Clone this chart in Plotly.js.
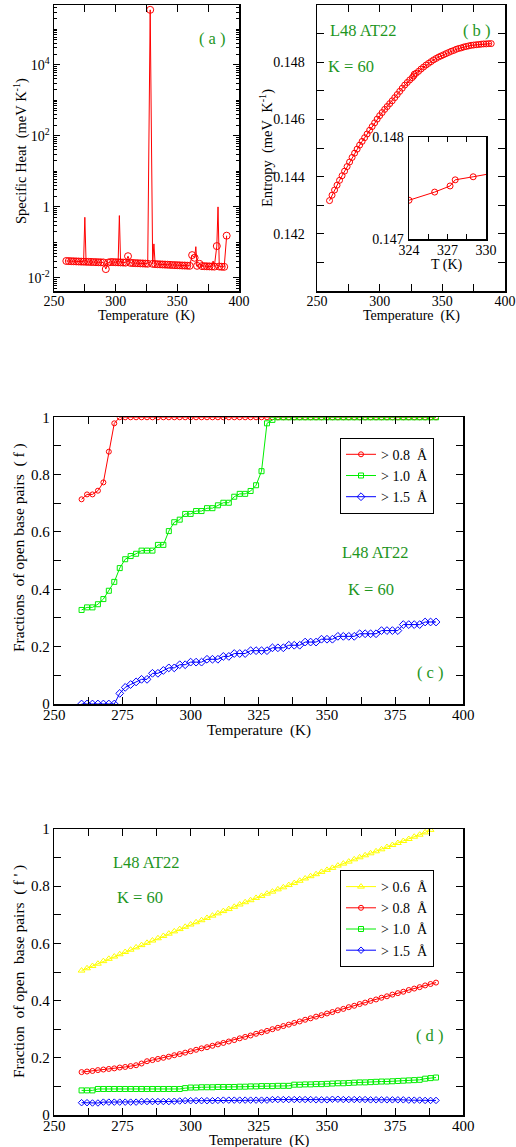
<!DOCTYPE html>
<html><head><meta charset="utf-8">
<script src="https://cdn.plot.ly/plotly-3.0.1.min.js"></script>
<style>html,body{margin:0;padding:0;background:#fff}#chart{width:516px;height:1147px}</style>
</head><body><div id="chart"></div>
<script>
// ---------- DATA ----------
// Panel (a): specific heat
const cvT = [260,262,264,266,268,270,272,274,276,278,280,282,284,286,288,290,292,294,296,298,300,302,304,306,308,310,312,314,316,318,320,322,324,326,328,330,332,334,336,338,340,342,344,346,348,350,352,354,356,358,360,362,364,366,368,370,372,374,376,378,380,382,384,386,388,390];
const cv = [0.0301,0.0299,0.0297,0.0295,0.0293,0.0291,0.0289,0.0288,0.0286,0.0284,
            0.0283,0.0281,0.0279,0.0278,0.0276,0.0274,0.0178,0.0272,0.0282,0.0280,
            0.0278,0.0276,0.0274,0.0272,0.0270,0.041,0.0266,0.0264,0.0262,0.0260,
            0.0258,0.0256,0.0254,0.0252,350000,0.0250,0.0246,0.0244,0.0242,0.0240,
            0.0238,0.0236,0.0234,0.0232,0.0230,0.0229,0.0227,0.0225,0.0224,0.0222,
            0.0220,0.044,0.037,0.0220,0.025,0.0216,0.0215,0.0213,0.0212,0.0210,
            0.0209,0.079,0.0210,0.0207,0.0206,0.155];
const cvSpikeT = [275,303,331,365,379,383];
const cvSpike = [0.51,0.57,0.091,0.076,0.030,1.0];

// Panel (b): entropy
const entT = [260,262,264,266,268,270,272,274,276,278,280,282,284,286,288,290,292,294,296,298,300,302,304,306,308,310,312,314,316,318,320,322,324,326,327.2,327.6,329,331,333,335,337,339,341,343,345,347,349,351,353,355,357,359,361,363,365,367,369,371,373,375,377,379,381,383,385,387,389];
const entS = [0.14316,0.14335,0.14353,0.14370,0.14387,0.14403,0.14419,0.14435,0.14451,0.14467,
              0.14482,0.14496,0.14510,0.14523,0.14536,0.14549,0.14562,0.14575,0.14588,0.14601,
              0.14613,0.14624,0.14635,0.14645,0.14655,0.14665,0.14676,0.14687,0.14698,0.14709,
              0.14720,0.14729,0.14738,0.14746,0.14752,0.14758,0.14761,0.14768,0.14776,0.14783,
              0.14790,0.14796,0.14802,0.14808,0.14813,0.14818,0.14822,0.14826,0.14830,0.14834,
              0.14838,0.14841,0.14845,0.14848,0.14850,0.14853,0.14855,0.14857,0.14859,0.14860,
              0.14861,0.14862,0.14863,0.14864,0.14864,0.14865,0.14865];

// Panel (c): fractions of open base pairs (f)
const fracT = [260,262,264,266,268,270,272,274,276,278,280,282,284,286,288,290,292,294,296,298,300,302,304,306,308,310,312,314,316,318,320,322,324,326,328,330,332,334,336,338,340,342,344,346,348,350,352,354,356,358,360,362,364,366,368,370,372,374,376,378,380,382,384,386,388,390];
const fC08 = [0.714,0.731,0.731,0.744,0.773,0.880,0.979,1,1,1,1,1,1,1,1,1,1,1,1,1,1,1,1,1,1,1,1,1,1,1,1,1,1,1,1,1,1,1,1,1,1,1,1,1,1,1,1,1,1,1,1,1,1,1,1,1,1,1,1,1,1,1,1,1,1,1];
const fC10 = [0.328,0.337,0.337,0.348,0.366,0.395,0.426,0.474,0.505,0.516,
              0.524,0.535,0.535,0.535,0.555,0.555,0.603,0.634,0.643,0.663,
              0.663,0.673,0.673,0.683,0.683,0.693,0.702,0.702,0.723,0.733,
              0.733,0.743,0.763,0.812,0.979,0.991,1,1,1,1,
              1,1,1,1,1,1,1,1,1,1,1,1,1,1,1,1,1,1,1,1,1,1,1,1,1,1];
const fC15 = [0,0,0,0,0,0,0,0.037,0.058,0.068,
              0.077,0.086,0.086,0.107,0.107,0.117,0.126,0.126,0.137,0.137,
              0.146,0.146,0.146,0.156,0.156,0.156,0.166,0.166,0.176,0.176,
              0.176,0.186,0.186,0.186,0.186,0.196,0.196,0.196,0.205,0.205,
              0.205,0.216,0.216,0.216,0.226,0.226,0.226,0.236,0.236,0.236,
              0.236,0.245,0.245,0.245,0.245,0.256,0.256,0.256,0.256,0.277,
              0.277,0.277,0.277,0.286,0.286,0.286];

// Panel (d): fraction of open base pairs (f')
const fracT06 = [260,262,264,266,268,270,272,274,276,278,280,282,284,286,288,290,292,294,296,298,300,302,304,306,308,310,312,314,316,318,320,322,324,326,328,330,332,334,336,338,340,342,344,346,348,350,352,354,356,358,360,362,364,366,368,370,372,374,376,378,380,382,384,386,388];
const fD06 = [0.505,0.513,0.521,0.529,0.538,0.546,0.554,0.562,0.570,0.578,
              0.586,0.594,0.602,0.610,0.618,0.626,0.634,0.642,0.650,0.658,
              0.666,0.674,0.681,0.689,0.697,0.705,0.713,0.720,0.728,0.736,
              0.744,0.751,0.759,0.766,0.774,0.781,0.789,0.796,0.804,0.811,
              0.819,0.827,0.835,0.842,0.850,0.857,0.864,0.872,0.879,0.886,
              0.894,0.901,0.908,0.915,0.922,0.929,0.937,0.944,0.951,0.958,
              0.965,0.973,0.980,0.988,0.997];
const fD08 = [0.150,0.152,0.154,0.157,0.159,0.161,0.163,0.166,0.168,0.171,
              0.174,0.180,0.188,0.192,0.196,0.200,0.204,0.209,0.213,0.218,
              0.223,0.228,0.233,0.237,0.242,0.247,0.252,0.257,0.262,0.268,
              0.273,0.278,0.284,0.289,0.294,0.300,0.305,0.311,0.316,0.322,
              0.327,0.333,0.338,0.344,0.349,0.355,0.360,0.366,0.371,0.377,
              0.382,0.388,0.393,0.399,0.404,0.410,0.415,0.421,0.426,0.431,
              0.437,0.442,0.447,0.453,0.458,0.463];
const fD10 = [0.086,0.086,0.086,0.091,0.091,0.091,0.091,0.091,0.091,0.091,
              0.091,0.091,0.091,0.091,0.091,0.091,0.091,0.091,0.091,0.094,
              0.096,0.096,0.097,0.097,0.097,0.098,0.098,0.098,0.098,0.099,
              0.099,0.100,0.100,0.101,0.101,0.101,0.102,0.102,0.102,0.106,
              0.106,0.107,0.107,0.108,0.108,0.109,0.110,0.111,0.111,0.112,
              0.113,0.114,0.114,0.115,0.116,0.117,0.117,0.118,0.119,0.120,
              0.121,0.122,0.123,0.127,0.129,0.131];
const fD15 = [0.043,0.043,0.042,0.042,0.045,0.045,0.045,0.045,0.045,0.045,
              0.045,0.047,0.047,0.047,0.047,0.047,0.047,0.048,0.049,0.050,
              0.050,0.050,0.050,0.050,0.050,0.051,0.052,0.052,0.052,0.052,
              0.052,0.052,0.052,0.052,0.052,0.054,0.054,0.054,0.054,0.054,
              0.054,0.054,0.054,0.053,0.053,0.053,0.055,0.055,0.054,0.054,
              0.054,0.054,0.054,0.053,0.053,0.053,0.053,0.053,0.053,0.053,
              0.052,0.052,0.052,0.051,0.051,0.051];

const tempTicks = [250,300,350,400];
const logTickVals = [0.01,1,100,10000];
const logTickText = ['10<sup>-2</sup>','1','10<sup>2</sup>','10<sup>4</sup>'];
const legendC = ['>\u00A00.8\u00A0\u00A0\u00C5','>\u00A01.0\u00A0\u00A0\u00C5','>\u00A01.5\u00A0\u00A0\u00C5'];
const legendD = ['>\u00A00.6\u00A0\u00A0\u00C5','>\u00A00.8\u00A0\u00A0\u00C5','>\u00A01.0\u00A0\u00A0\u00C5','>\u00A01.5\u00A0\u00A0\u00C5'];
const xTitle = 'Temperature\u00A0\u00A0(K)';
const yTitleA = 'Specific Heat\u00A0\u00A0(meV K<sup>-1</sup>)';
const yTitleB = 'Entropy\u00A0\u00A0(meV\u00A0\u00A0K<sup>-1</sup>)';
const yTitleC = 'Fractions\u00A0\u00A0of open base pairs\u00A0\u00A0( f )';
const yTitleD = "Fraction\u00A0\u00A0of open\u00A0\u00A0base pairs\u00A0\u00A0( f ' )";
const insetTitle = 'T (K)';

// ---------- STYLE ----------
const W = 516, H = 1147;
const FONT = "'Liberation Serif', 'Times New Roman', Times, serif";
const GREEN_TXT = '#1e961e';
const px = v => v / W;
const py = v => 1 - v / H;

// merge main + spike points for the line of panel (a)
const cvAll = cvT.map((t,i)=>[t,cv[i]]).concat(cvSpikeT.map((t,i)=>[t,cvSpike[i]])).sort((a,b)=>a[0]-b[0]);

function ax(extra){
  return Object.assign({
    showline:true, linecolor:'black', linewidth:1.5, mirror:'allticks',
    ticks:'inside', ticklen:7, tickwidth:1, tickcolor:'black',
    showgrid:false, zeroline:false, automargin:false,
    tickfont:{family:FONT, size:15, color:'black'}
  }, extra);
}
const minorT = (d) => ({dtick:d, ticks:'inside', ticklen:7, tickwidth:1, tickcolor:'black', showgrid:false});

// log minor ticks (every 1..9 x decade, except labelled decades)
const logMinor = [];
for (let e=-3; e<=6; e++) for (let m=1; m<=9; m++) {
  const v = m*Math.pow(10,e);
  if (!(m===1 && e%2===0)) logMinor.push(v);
}

const traces = [
  {x:cvAll.map(p=>p[0]), y:cvAll.map(p=>p[1]), xaxis:'x', yaxis:'y', mode:'lines',
   line:{color:'#ff0000', width:1}, showlegend:false, hoverinfo:'skip'},
  {x:cvT, y:cv, xaxis:'x', yaxis:'y', mode:'markers',
   marker:{symbol:'circle-open', size:7, color:'#ff0000', line:{width:1}}, showlegend:false},
  {x:entT, y:entS, xaxis:'x2', yaxis:'y2', mode:'lines+markers',
   line:{color:'#ff0000', width:1}, marker:{symbol:'circle-open', size:6, color:'#ff0000', line:{width:1}}, showlegend:false},
  {x:entT, y:entS, xaxis:'x5', yaxis:'y5', mode:'lines+markers',
   line:{color:'#ff0000', width:1}, marker:{symbol:'circle-open', size:6, color:'#ff0000', line:{width:1}}, showlegend:false},
  {x:fracT, y:fC08, xaxis:'x3', yaxis:'y3', mode:'lines+markers', name:legendC[0], legend:'legend',
   line:{color:'#ff0000', width:1}, marker:{symbol:'circle-open', size:5, color:'#ff0000', line:{width:1}}},
  {x:fracT, y:fC10, xaxis:'x3', yaxis:'y3', mode:'lines+markers', name:legendC[1], legend:'legend',
   line:{color:'#00ee00', width:1}, marker:{symbol:'square-open', size:5, color:'#00ee00', line:{width:1}}},
  {x:fracT, y:fC15, xaxis:'x3', yaxis:'y3', mode:'lines+markers', name:legendC[2], legend:'legend',
   line:{color:'#0000ff', width:1}, marker:{symbol:'diamond-open', size:6, color:'#0000ff', line:{width:1}}},
  {x:fracT06, y:fD06, xaxis:'x4', yaxis:'y4', mode:'lines+markers', name:legendD[0], legend:'legend2',
   line:{color:'#ffff00', width:1}, marker:{symbol:'triangle-up-open', size:6, color:'#ffff00', line:{width:1}}},
  {x:fracT, y:fD08, xaxis:'x4', yaxis:'y4', mode:'lines+markers', name:legendD[1], legend:'legend2',
   line:{color:'#ff0000', width:1}, marker:{symbol:'circle-open', size:5, color:'#ff0000', line:{width:1}}},
  {x:fracT, y:fD10, xaxis:'x4', yaxis:'y4', mode:'lines+markers', name:legendD[2], legend:'legend2',
   line:{color:'#00ee00', width:1}, marker:{symbol:'square-open', size:5, color:'#00ee00', line:{width:1}}},
  {x:fracT, y:fD15, xaxis:'x4', yaxis:'y4', mode:'lines+markers', name:legendD[3], legend:'legend2',
   line:{color:'#0000ff', width:1}, marker:{symbol:'diamond-open', size:5, color:'#0000ff', line:{width:1}}}
];

const ann = (text, x, y, size) => ({text:text, x:px(x), y:py(y), xref:'paper', yref:'paper',
  showarrow:false, xanchor:'center', yanchor:'middle', font:{family:FONT, size:size||16.5, color:GREEN_TXT}});
const tAnn = (text, x, y, size, angle) => ({text:text, x:px(x), y:py(y), xref:'paper', yref:'paper',
  showarrow:false, xanchor:'center', yanchor:'middle', textangle:angle||0, borderpad:0,
  font:{family:FONT, size:size, color:'black'}});

const layout = {
  width:W, height:H, margin:{l:0,r:0,t:0,b:0},
  paper_bgcolor:'white', plot_bgcolor:'white', showlegend:true,
  font:{family:FONT, color:'black'},
  // (a)
  xaxis: ax({domain:[px(54),px(239)], anchor:'y', range:[250,400], tickvals:tempTicks, minor:minorT(25),
    ticklabelstandoff:-3, tickfont:{family:FONT,size:14,color:'black'}}),
  yaxis: ax({domain:[py(291),py(5)], anchor:'x', type:'log', range:[-2.366,5.68],
    tickvals:logTickVals, ticktext:logTickText, ticklen:6,
    minor:{tickvals:logMinor, ticks:'inside', ticklen:3, tickwidth:1, tickcolor:'black'},
    tickfont:{family:FONT,size:14,color:'black'}}),
  // (b)
  xaxis2: ax({domain:[px(317),px(505)], anchor:'y2', range:[250,400], tickvals:tempTicks, minor:minorT(25),
    ticklabelstandoff:-3, tickfont:{family:FONT,size:14,color:'black'}}),
  yaxis2: ax({domain:[py(291),py(5)], anchor:'x2', range:[0.140,0.150],
    tickvals:[0.142,0.144,0.146,0.148], ticktext:['0.142','0.144','0.146','0.148'], minor:minorT(0.001),
    ticklabelstandoff:8, tickfont:{family:FONT,size:14,color:'black'}}),
  // inset of (b)
  xaxis5: ax({domain:[px(409),px(486)], anchor:'y5', range:[324,330], tickvals:[324,327,330], ticklen:5,
    minor:{tickvals:[325.5,328.5], ticks:'inside', ticklen:5, tickwidth:1, tickcolor:'black'},
    ticklabelstandoff:-2, tickfont:{family:FONT,size:14,color:'black'}}),
  yaxis5: ax({domain:[py(239),py(137)], anchor:'x5', range:[0.147,0.148], tickvals:[0.147,0.148],
    ticktext:['0.147','0.148'], ticklen:5, ticklabelstandoff:1,
    tickfont:{family:FONT,size:14,color:'black'}}),
  // (c)
  xaxis3: ax({domain:[px(54.3),px(463.3)], anchor:'y3', range:[250,400], dtick:25, tick0:250, minor:minorT(12.5),
    ticklabelstandoff:-4}),
  yaxis3: ax({domain:[py(704),py(417.3)], anchor:'x3', range:[0,1], dtick:0.2, tick0:0, minor:minorT(0.1)}),
  // (d)
  xaxis4: ax({domain:[px(54.3),px(463.3)], anchor:'y4', range:[250,400], dtick:25, tick0:250, minor:minorT(12.5),
    ticklabelstandoff:-4}),
  yaxis4: ax({domain:[py(1115),py(829)], anchor:'x4', range:[0,1], dtick:0.2, tick0:0, minor:minorT(0.1)}),
  legend: {x:px(340), y:py(437.7), xanchor:'left', yanchor:'top', bgcolor:'white',
    bordercolor:'black', borderwidth:1, font:{family:FONT, size:14, color:'black'}},
  legend2: {x:px(340), y:py(870), xanchor:'left', yanchor:'top', bgcolor:'white',
    bordercolor:'black', borderwidth:1, font:{family:FONT, size:14, color:'black'}},
  annotations: [
    // axis titles
    tAnn(xTitle, 146.5, 316, 14),
    tAnn(xTitle, 411, 316, 14),
    tAnn(insetTitle, 447, 265, 14),
    tAnn(xTitle, 259, 730, 15),
    tAnn(xTitle, 259, 1140.5, 14.5),
    tAnn(yTitleA, 20, 151, 14.5, -90),
    tAnn(yTitleB, 266, 148, 14.5, -90),
    tAnn(yTitleC, 19, 548, 15.5, -90),
    tAnn(yTitleD, 19, 972, 15.5, -90),
    // panel labels
    ann('( a )', 212, 38),
    ann('L48 AT22', 363, 31),
    ann('K = 60', 351, 67),
    ann('( b )', 477, 31),
    ann('L48 AT22', 375, 553),
    ann('K = 60', 371, 589),
    ann('( c )', 430, 672),
    ann('L48 AT22', 146, 863),
    ann('K = 60', 140, 897),
    ann('( d )', 430, 1035)
  ]
};

Plotly.newPlot('chart', traces, layout, {staticPlot:true, displayModeBar:false});
</script>
</body></html>
